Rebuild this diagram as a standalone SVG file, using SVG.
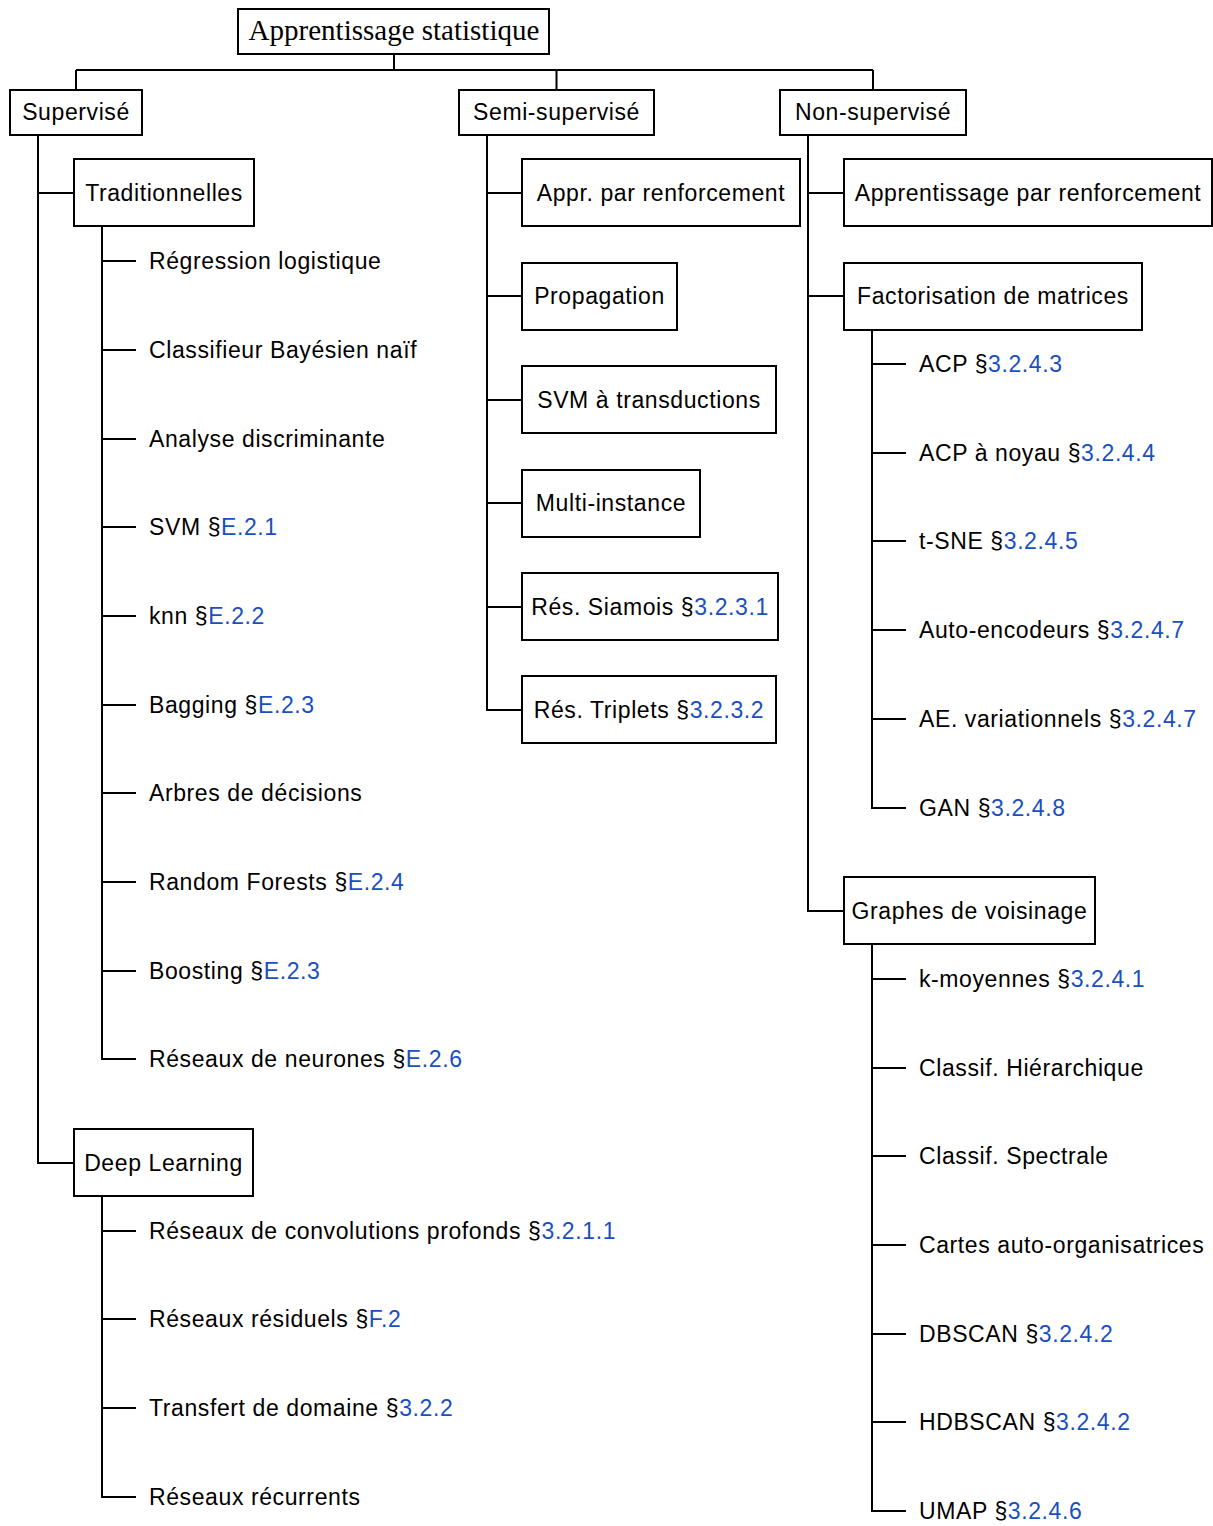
<svg xmlns="http://www.w3.org/2000/svg" width="1213" height="1526" viewBox="0 0 1213 1526">
<style>
.box{fill:#fff;stroke:#000;stroke-width:2}
.c{fill:none;stroke:#000;stroke-width:2}
.t{font-family:"Liberation Sans",Arial,sans-serif;font-size:23px;letter-spacing:0.6px;fill:#000}
.m{text-anchor:middle}
.r{font-family:"Liberation Serif","Times New Roman",serif;font-size:29px;fill:#000;text-anchor:middle}
.b{fill:#1a4fbf}
</style>
<rect width="1213" height="1526" fill="#fff"/>
<g id="connectors">
<path class="c" d="M394 54V70M76 70H873M76 70V90M556.5 70V90M873 70V90"/>
<path class="c" d="M38 135V1163H74M38 193H74"/>
<path class="c" d="M102 226V1059H136M102 261H136M102 350H136M102 439H136M102 527H136M102 616H136M102 705H136M102 793H136M102 882H136M102 971H136"/>
<path class="c" d="M102 1196V1497H136M102 1231H136M102 1319H136M102 1408H136"/>
<path class="c" d="M487 135V710H522M487 193H522M487 296H522M487 400H522M487 503H522M487 607H522"/>
<path class="c" d="M808 135V911H844M808 193H844M808 296H844"/>
<path class="c" d="M872 330V808H906M872 364H906M872 453H906M872 541H906M872 630H906M872 719H906"/>
<path class="c" d="M872 944V1511H906M872 979H906M872 1068H906M872 1156H906M872 1245H906M872 1334H906M872 1422H906"/>
</g>
<g id="root"><rect class="box" x="238" y="9" width="311" height="45"/><text class="r" x="394" y="40">Apprentissage statistique</text></g>
<g id="supervise"><rect class="box" x="10" y="90" width="132" height="45"/><text class="t m" x="76" y="120">Supervisé</text></g>
<g id="semi"><rect class="box" x="459" y="90" width="195" height="45"/><text class="t m" x="556.5" y="120">Semi-supervisé</text></g>
<g id="nonsup"><rect class="box" x="780" y="90" width="186" height="45"/><text class="t m" x="873" y="120">Non-supervisé</text></g>
<g id="trad"><rect class="box" x="74" y="159" width="180" height="67"/><text class="t m" x="164" y="201">Traditionnelles</text></g>
<g id="deep"><rect class="box" x="74" y="1129" width="179" height="67"/><text class="t m" x="163.5" y="1171">Deep Learning</text></g>
<g id="trad-items">
<text class="t" x="149" y="269">Régression logistique</text>
<text class="t" x="149" y="358">Classifieur Bayésien naïf</text>
<text class="t" x="149" y="447">Analyse discriminante</text>
<text class="t" x="149" y="535">SVM §<tspan class="b">E.2.1</tspan></text>
<text class="t" x="149" y="624">knn §<tspan class="b">E.2.2</tspan></text>
<text class="t" x="149" y="713">Bagging §<tspan class="b">E.2.3</tspan></text>
<text class="t" x="149" y="801">Arbres de décisions</text>
<text class="t" x="149" y="890">Random Forests §<tspan class="b">E.2.4</tspan></text>
<text class="t" x="149" y="979">Boosting §<tspan class="b">E.2.3</tspan></text>
<text class="t" x="149" y="1067">Réseaux de neurones §<tspan class="b">E.2.6</tspan></text>
</g>
<g id="deep-items">
<text class="t" x="149" y="1239">Réseaux de convolutions profonds §<tspan class="b">3.2.1.1</tspan></text>
<text class="t" x="149" y="1327">Réseaux résiduels §<tspan class="b">F.2</tspan></text>
<text class="t" x="149" y="1416">Transfert de domaine §<tspan class="b">3.2.2</tspan></text>
<text class="t" x="149" y="1505">Réseaux récurrents</text>
</g>
<g id="semi-appr"><rect class="box" x="522" y="159" width="278" height="67"/><text class="t m" x="661" y="201">Appr. par renforcement</text></g>
<g id="semi-prop"><rect class="box" x="522" y="263" width="155" height="67"/><text class="t m" x="599.5" y="304">Propagation</text></g>
<g id="semi-svm"><rect class="box" x="522" y="366" width="254" height="67"/><text class="t m" x="649" y="408">SVM à transductions</text></g>
<g id="semi-multi"><rect class="box" x="522" y="470" width="178" height="67"/><text class="t m" x="611" y="511">Multi-instance</text></g>
<g id="semi-siam"><rect class="box" x="522" y="573" width="256" height="67"/><text class="t m" x="650" y="615">Rés. Siamois §<tspan class="b">3.2.3.1</tspan></text></g>
<g id="semi-trip"><rect class="box" x="522" y="676" width="254" height="67"/><text class="t m" x="649" y="718">Rés. Triplets §<tspan class="b">3.2.3.2</tspan></text></g>
<g id="non-appr"><rect class="box" x="844" y="159" width="368" height="67"/><text class="t m" x="1028" y="201">Apprentissage par renforcement</text></g>
<g id="non-fact"><rect class="box" x="844" y="263" width="298" height="67"/><text class="t m" x="993" y="304">Factorisation de matrices</text></g>
<g id="non-graph"><rect class="box" x="844" y="877" width="251" height="67"/><text class="t m" x="969.5" y="919">Graphes de voisinage</text></g>
<g id="fact-items">
<text class="t" x="919" y="372">ACP §<tspan class="b">3.2.4.3</tspan></text>
<text class="t" x="919" y="461">ACP à noyau §<tspan class="b">3.2.4.4</tspan></text>
<text class="t" x="919" y="549">t-SNE §<tspan class="b">3.2.4.5</tspan></text>
<text class="t" x="919" y="638">Auto-encodeurs §<tspan class="b">3.2.4.7</tspan></text>
<text class="t" x="919" y="727">AE. variationnels §<tspan class="b">3.2.4.7</tspan></text>
<text class="t" x="919" y="816">GAN §<tspan class="b">3.2.4.8</tspan></text>
</g>
<g id="graph-items">
<text class="t" x="919" y="987">k-moyennes §<tspan class="b">3.2.4.1</tspan></text>
<text class="t" x="919" y="1076">Classif. Hiérarchique</text>
<text class="t" x="919" y="1164">Classif. Spectrale</text>
<text class="t" x="919" y="1253">Cartes auto-organisatrices</text>
<text class="t" x="919" y="1342">DBSCAN §<tspan class="b">3.2.4.2</tspan></text>
<text class="t" x="919" y="1430">HDBSCAN §<tspan class="b">3.2.4.2</tspan></text>
<text class="t" x="919" y="1519">UMAP §<tspan class="b">3.2.4.6</tspan></text>
</g>
</svg>
